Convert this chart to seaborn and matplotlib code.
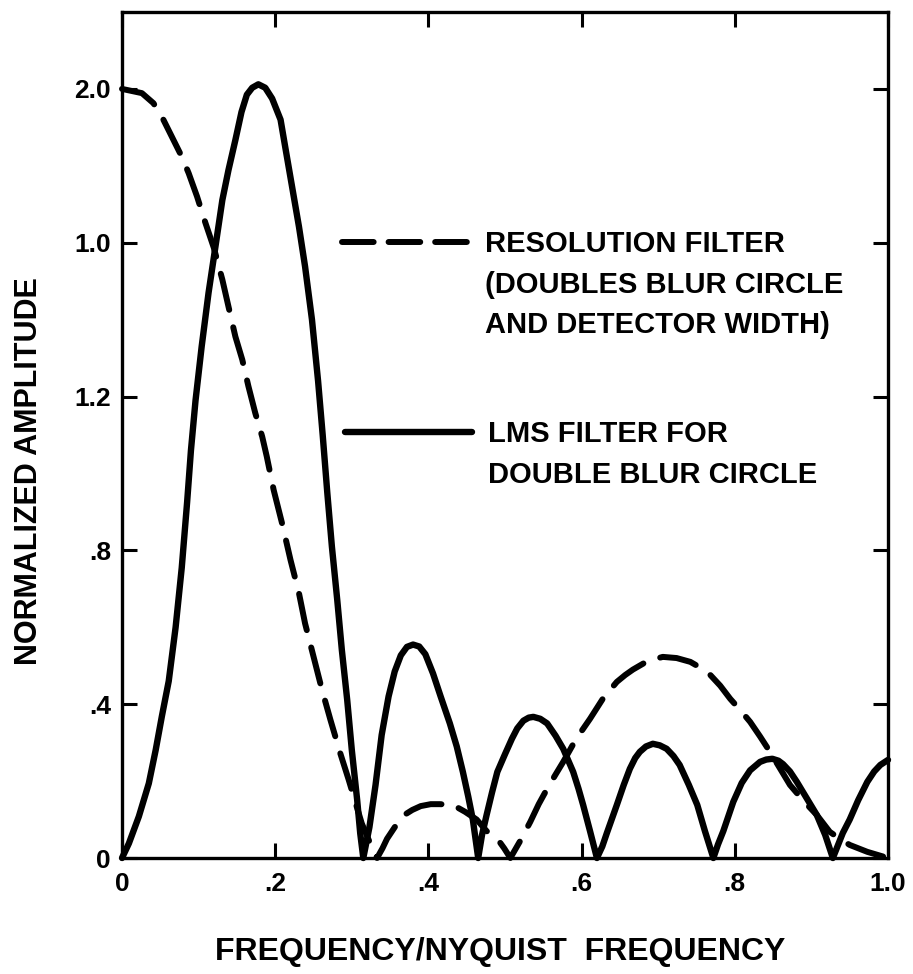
import matplotlib
matplotlib.use("Agg")
import matplotlib.pyplot as plt
from matplotlib.lines import Line2D
import seaborn as sns

# ---------------- data ----------------
freq_lms = [0.000, 0.009, 0.022, 0.035, 0.044, 0.052, 0.061, 0.070, 0.078, 0.085,
            0.090, 0.096, 0.104, 0.113, 0.122, 0.131, 0.139, 0.148, 0.156, 0.163,
            0.170, 0.178, 0.187, 0.196, 0.207, 0.213, 0.222, 0.231, 0.239, 0.248,
            0.256, 0.262, 0.268, 0.274, 0.281, 0.287, 0.294, 0.300, 0.307, 0.311,
            0.315,
            0.323, 0.331, 0.339, 0.348, 0.356, 0.364, 0.372, 0.380, 0.388, 0.396,
            0.406, 0.416, 0.428, 0.437, 0.445, 0.452, 0.458, 0.465,
            0.470, 0.476, 0.483, 0.490, 0.500, 0.509, 0.516, 0.524, 0.531, 0.537,
            0.546, 0.555, 0.566, 0.576, 0.589, 0.596, 0.602, 0.611, 0.620,
            0.627, 0.633, 0.646, 0.655, 0.663, 0.670, 0.676, 0.684, 0.693, 0.702,
            0.711, 0.720, 0.728, 0.740, 0.751, 0.761, 0.772,
            0.778, 0.785, 0.798, 0.809, 0.820, 0.833, 0.841, 0.849, 0.857, 0.863,
            0.872, 0.881, 0.894, 0.907, 0.918, 0.928,
            0.935, 0.941, 0.950, 0.961, 0.973, 0.982, 0.990, 1.000]
amp_lms = [0.000, 0.038, 0.108, 0.194, 0.281, 0.368, 0.460, 0.600, 0.755, 0.925,
           1.060, 1.190, 1.330, 1.470, 1.590, 1.711, 1.789, 1.867, 1.940, 1.985,
           2.003, 2.012, 2.003, 1.975, 1.920, 1.850, 1.746, 1.642, 1.538, 1.400,
           1.240, 1.100, 0.950, 0.810, 0.671, 0.541, 0.411, 0.281, 0.151, 0.064,
           0.000,
           0.080, 0.190, 0.320, 0.420, 0.485, 0.527, 0.549, 0.555, 0.550, 0.530,
           0.480, 0.420, 0.350, 0.290, 0.224, 0.160, 0.100, 0.000,
           0.060, 0.112, 0.170, 0.224, 0.270, 0.310, 0.337, 0.357, 0.365, 0.367,
           0.362, 0.350, 0.318, 0.284, 0.224, 0.180, 0.138, 0.070, 0.000,
           0.030, 0.065, 0.138, 0.190, 0.232, 0.260, 0.276, 0.290, 0.297, 0.293,
           0.284, 0.265, 0.242, 0.190, 0.138, 0.070, 0.000,
           0.035, 0.070, 0.146, 0.195, 0.228, 0.250, 0.256, 0.258, 0.253, 0.244,
           0.225, 0.198, 0.155, 0.112, 0.060, 0.000,
           0.035, 0.065, 0.100, 0.150, 0.198, 0.225, 0.242, 0.255]

freq_res = [0.000, 0.026, 0.041, 0.052, 0.065, 0.078, 0.087, 0.098, 0.109, 0.120,
            0.131, 0.139, 0.148, 0.157, 0.165, 0.174, 0.183, 0.189, 0.198, 0.209,
            0.220, 0.231, 0.239, 0.250, 0.261, 0.272, 0.285, 0.296, 0.305, 0.313,
            0.324, 0.333,
            0.340, 0.346, 0.356, 0.367, 0.379, 0.390, 0.403, 0.415, 0.432, 0.448,
            0.463, 0.476, 0.490, 0.499, 0.507,
            0.520, 0.533, 0.544, 0.555, 0.566, 0.576, 0.593, 0.611, 0.628, 0.646,
            0.657, 0.667, 0.686, 0.706, 0.724, 0.742, 0.755, 0.768, 0.781, 0.794,
            0.807, 0.820, 0.833, 0.846, 0.859, 0.872, 0.890, 0.907, 0.924, 0.937,
            0.950, 0.973, 1.000]
amp_res = [2.000, 1.989, 1.963, 1.928, 1.876, 1.824, 1.781, 1.720, 1.651, 1.586,
           1.504, 1.434, 1.356, 1.296, 1.227, 1.157, 1.096, 1.044, 0.957, 0.870,
           0.775, 0.689, 0.610, 0.524, 0.438, 0.360, 0.272, 0.203, 0.143, 0.090,
           0.038, 0.000,
           0.025, 0.050, 0.080, 0.110, 0.125, 0.135, 0.140, 0.140, 0.138, 0.120,
           0.100, 0.070, 0.050, 0.025, 0.000,
           0.045, 0.094, 0.140, 0.180, 0.217, 0.250, 0.310, 0.362, 0.415, 0.458,
           0.476, 0.490, 0.512, 0.523, 0.520, 0.510, 0.495, 0.476, 0.448, 0.414,
           0.385, 0.354, 0.316, 0.276, 0.233, 0.190, 0.148, 0.112, 0.068, 0.050,
           0.034, 0.016, 0.000]

x_ticks = [0, 0.2, 0.4, 0.6, 0.8, 1.0]
x_tick_labels = ["0", ".2", ".4", ".6", ".8", "1.0"]
y_ticks = [0, 0.4, 0.8, 1.2, 1.6, 2.0]
y_tick_labels = ["0", ".4", ".8", "1.2", "1.0", "2.0"]

res_label = ["RESOLUTION FILTER", "(DOUBLES BLUR CIRCLE", "AND DETECTOR WIDTH)"]
lms_label = ["LMS FILTER FOR", "DOUBLE BLUR CIRCLE"]
x_label = "FREQUENCY/NYQUIST  FREQUENCY"
y_label = "NORMALIZED AMPLITUDE"

# ---------------- style ----------------
sns.set_style("white")
plt.rcParams["font.family"] = ["Liberation Sans", "DejaVu Sans"]
plt.rcParams["font.weight"] = "bold"
plt.rcParams["text.color"] = "black"
plt.rcParams["axes.labelcolor"] = "black"
plt.rcParams["xtick.color"] = "black"
plt.rcParams["ytick.color"] = "black"

W, H = 913, 974
fig = plt.figure(figsize=(W / 100, H / 100), dpi=100)
ax = fig.add_axes([122 / W, 1 - 858 / H, 766 / W, 846 / H])

LW_SOLID = 4.6
LW_DASH = 4.3
DASH_CURVE = (0, (6.2, 3.0))
DASH_KEY = (0, (5.3, 2.5))

sns.lineplot(x=freq_res, y=amp_res, ax=ax, color="black", linewidth=LW_DASH,
             linestyle=DASH_CURVE, dash_capstyle="round", dash_joinstyle="round",
             estimator=None, sort=False, clip_on=False)
sns.lineplot(x=freq_lms, y=amp_lms, ax=ax, color="black", linewidth=LW_SOLID,
             solid_capstyle="round", solid_joinstyle="round", estimator=None,
             sort=False, clip_on=False)

ax.set_xlim(0, 1.0)
ax.set_ylim(0, 2.2)

for s in ax.spines.values():
    s.set_visible(True)
    s.set_color("black")
    s.set_linewidth(2.4)

ax.set_xticks(x_ticks)
ax.set_xticklabels(x_tick_labels)
ax.set_yticks(y_ticks)
ax.set_yticklabels(y_tick_labels)
ax.tick_params(axis="both", which="both", direction="in", length=11, width=2.2,
               color="black", top=True, right=True, bottom=True, left=True,
               labelsize=19, labelcolor="black")
ax.tick_params(axis="x", pad=10)
ax.tick_params(axis="y", pad=8)
for lab in ax.get_xticklabels() + ax.get_yticklabels():
    lab.set_fontweight("bold")

ax.set_xlabel(x_label, fontsize=23, fontweight="bold", color="black")
ax.xaxis.label.set_va("baseline")
ax.xaxis.set_label_coords((500 - 122) / 766, (858 - 960) / 846)
ax.set_ylabel(y_label, fontsize=22, fontweight="bold", color="black")
ax.yaxis.label.set_va("baseline")
ax.yaxis.set_label_coords((37 - 122) / 766, (858 - 471) / 846)

# ---------------- legends ----------------
prop = {"size": 21, "weight": "bold"}
blank = Line2D([], [], color="none")
h_res = Line2D([], [], color="black", linewidth=LW_DASH, linestyle=DASH_KEY,
               dash_capstyle="round")
h_lms = Line2D([], [], color="black", linewidth=LW_SOLID, solid_capstyle="round")

common = dict(frameon=False, prop=prop, handlelength=4.35, handletextpad=0.55,
              labelspacing=0.43, borderpad=0, borderaxespad=0, loc="upper left",
              labelcolor="black")
leg1 = ax.legend(handles=[h_res, blank, blank], labels=res_label,
                 bbox_to_anchor=((342 - 122) / 766, (858 - 230) / 846), **common)
ax.add_artist(leg1)
leg2 = ax.legend(handles=[h_lms, blank], labels=lms_label,
                 bbox_to_anchor=((345 - 122) / 766, (858 - 420) / 846), **common)

fig.savefig("out.png", dpi=100)
